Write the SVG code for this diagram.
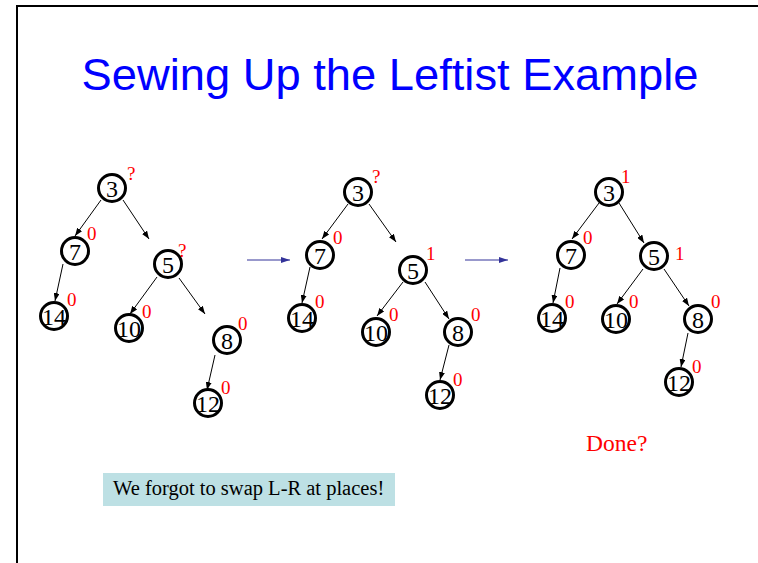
<svg xmlns="http://www.w3.org/2000/svg" width="758" height="563" viewBox="0 0 758 563">
<defs>
<marker id="ah" markerWidth="8" markerHeight="6" refX="8" refY="3" orient="auto" markerUnits="userSpaceOnUse"><path d="M0,0 L8,3 L0,6 z" fill="#000"/></marker>
<marker id="bh" markerWidth="9" markerHeight="6" refX="9" refY="3" orient="auto" markerUnits="userSpaceOnUse"><path d="M0,0 L9,3 L0,6 z" fill="#333399"/></marker>
<style>
.n circle{fill:#fff;stroke:#000;stroke-width:3}
.n text{font-family:"Liberation Serif",serif;font-size:24px;fill:#000;text-anchor:middle}
.r{font-family:"Liberation Serif",serif;font-size:19px;fill:#ff0000}
.e line{stroke:#000;stroke-width:1;marker-end:url(#ah)}
.b line{stroke:#333399;stroke-width:1;marker-end:url(#bh)}
</style>
</defs>
<rect x="0" y="0" width="758" height="563" fill="#fff"/>
<path d="M17,563 L17,6 L758,6" fill="none" stroke="#000" stroke-width="2"/>
<text x="390" y="90" font-family="'Liberation Sans',Arial,sans-serif" font-size="44" fill="#0000ff" text-anchor="middle" textLength="617" lengthAdjust="spacingAndGlyphs">Sewing Up the Leftist Example</text>

<g id="connectors">
<g class="e">
<line x1="101" y1="200" x2="75" y2="236"/>
<line x1="123" y1="200" x2="149" y2="239"/>
<line x1="63" y1="264" x2="55" y2="301"/>
<line x1="157" y1="277" x2="130" y2="314"/>
<line x1="179" y1="278" x2="205" y2="314"/>
<line x1="215" y1="355" x2="207" y2="390"/>

<line x1="348" y1="204" x2="322" y2="239"/>
<line x1="369" y1="204" x2="396" y2="242"/>
<line x1="310" y1="267" x2="302" y2="303"/>
<line x1="403" y1="282" x2="377" y2="316"/>
<line x1="425" y1="282" x2="449" y2="319"/>
<line x1="449" y1="345" x2="440" y2="380"/>

<line x1="599" y1="203" x2="572" y2="239"/>
<line x1="619" y1="203" x2="644" y2="243"/>
<line x1="560" y1="268" x2="553" y2="303"/>
<line x1="643" y1="269" x2="617" y2="304"/>
<line x1="664" y1="269" x2="689" y2="306"/>
<line x1="688" y1="333" x2="681" y2="367"/>
</g>
<g class="b">
<line x1="247" y1="260" x2="290" y2="260"/>
<line x1="465" y1="260" x2="508" y2="260"/>
</g>
</g>

<g id="t1-3" class="n"><circle cx="112" cy="188" r="13.5"/><text x="112" y="196.5">3</text></g>
<g id="t1-7" class="n"><circle cx="75" cy="251" r="13.5"/><text x="75" y="259.5">7</text></g>
<g id="t1-5" class="n"><circle cx="168" cy="264" r="13.5"/><text x="168" y="272.5">5</text></g>
<g id="t1-14" class="n"><circle cx="54" cy="316" r="13.5"/><text x="54" y="324.5">14</text></g>
<g id="t1-10" class="n"><circle cx="129" cy="328" r="13.5"/><text x="129" y="336.5">10</text></g>
<g id="t1-8" class="n"><circle cx="227" cy="340" r="13.5"/><text x="227" y="348.5">8</text></g>
<g id="t1-12" class="n"><circle cx="208" cy="403" r="13.5"/><text x="208" y="411.5">12</text></g>

<g id="t2-3" class="n"><circle cx="358" cy="192" r="13.5"/><text x="358" y="200.5">3</text></g>
<g id="t2-7" class="n"><circle cx="320" cy="255" r="13.5"/><text x="320" y="263.5">7</text></g>
<g id="t2-5" class="n"><circle cx="413" cy="270" r="13.5"/><text x="413" y="278.5">5</text></g>
<g id="t2-14" class="n"><circle cx="302" cy="318" r="13.5"/><text x="302" y="326.5">14</text></g>
<g id="t2-10" class="n"><circle cx="376" cy="332" r="13.5"/><text x="376" y="340.5">10</text></g>
<g id="t2-8" class="n"><circle cx="458" cy="332" r="13.5"/><text x="458" y="340.5">8</text></g>
<g id="t2-12" class="n"><circle cx="440" cy="395" r="13.5"/><text x="440" y="403.5">12</text></g>

<g id="t3-3" class="n"><circle cx="609" cy="192" r="13.5"/><text x="609" y="200.5">3</text></g>
<g id="t3-7" class="n"><circle cx="571" cy="255" r="13.5"/><text x="571" y="263.5">7</text></g>
<g id="t3-5" class="n"><circle cx="654" cy="256" r="13.5"/><text x="654" y="264.5">5</text></g>
<g id="t3-14" class="n"><circle cx="552" cy="318" r="13.5"/><text x="552" y="326.5">14</text></g>
<g id="t3-10" class="n"><circle cx="616" cy="319" r="13.5"/><text x="616" y="327.5">10</text></g>
<g id="t3-8" class="n"><circle cx="698" cy="319" r="13.5"/><text x="698" y="327.5">8</text></g>
<g id="t3-12" class="n"><circle cx="679" cy="382" r="13.5"/><text x="679" y="390.5">12</text></g>

<g id="ranks">
<text class="r" x="127" y="180">?</text>
<text class="r" x="87" y="240">0</text>
<text class="r" x="178" y="257">?</text>
<text class="r" x="67" y="306">0</text>
<text class="r" x="142" y="318">0</text>
<text class="r" x="238" y="330">0</text>
<text class="r" x="221" y="394">0</text>

<text class="r" x="372" y="183">?</text>
<text class="r" x="333" y="244">0</text>
<text class="r" x="426" y="260">1</text>
<text class="r" x="315" y="308">0</text>
<text class="r" x="389" y="321">0</text>
<text class="r" x="471" y="321">0</text>
<text class="r" x="453" y="386">0</text>

<text class="r" x="621" y="183">1</text>
<text class="r" x="583" y="244">0</text>
<text class="r" x="675" y="260">1</text>
<text class="r" x="565" y="308">0</text>
<text class="r" x="629" y="308">0</text>
<text class="r" x="711" y="308">0</text>
<text class="r" x="692" y="373">0</text>
</g>

<g id="note">
<rect x="103" y="473" width="292" height="33" fill="#bde0e4"/>
<text x="113" y="495" font-family="'Liberation Serif',serif" font-size="20.5" fill="#000">We forgot to swap L-R at places!</text>
</g>
<text id="done" x="586" y="451" font-family="'Liberation Serif',serif" font-size="23.5" fill="#ff0000">Done?</text>
</svg>
